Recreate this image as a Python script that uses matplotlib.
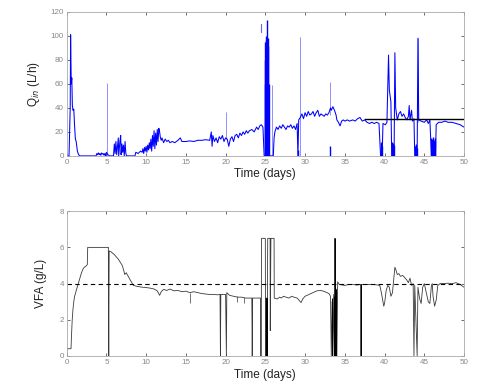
import numpy as np
import matplotlib
matplotlib.use("Agg")
import matplotlib.pyplot as plt

plt.rcParams["font.family"] = ["Liberation Sans", "DejaVu Sans"]

# ---- top panel: inflow Q_in (L/h) ----
q_time = [0, 0.3, 0.45, 0.5, 0.58, 0.65, 0.72, 0.8, 0.9, 1.0, 1.1, 1.2, 1.35, 1.5, 1.7,
          3.7, 3.8, 3.9, 4.0, 4.1, 4.2, 4.3, 4.4, 4.5, 4.6, 4.7, 4.8, 4.9, 5.0, 5.2, 5.4,
          5.9, 6.0, 6.1, 6.2, 6.3, 6.4, 6.5, 6.55, 6.7, 6.8, 6.85, 6.95, 7.05, 7.15, 7.25,
          7.35, 7.45, 7.55, 8.6, 8.7, 9.0, 9.3, 9.5, 9.6, 9.7, 9.8, 9.9, 10.0, 10.1, 10.2,
          10.3, 10.4, 10.5, 10.6, 10.7, 10.8, 10.9, 11.0, 11.1, 11.2, 11.3, 11.4, 11.5, 11.6,
          11.7, 11.8, 11.9, 12.0, 12.2, 12.4, 12.6, 12.8, 13.0, 13.3, 13.6, 14.0, 14.3, 14.5,
          15.0, 15.5, 16.0, 16.5, 17.0, 17.5, 18.0, 18.2, 18.3, 18.4, 18.6, 18.8, 19.0, 19.2,
          19.4, 19.6, 19.8, 20.0, 20.2, 20.4, 20.6, 20.8, 21.0, 21.2, 21.4, 21.6, 21.8, 22.0,
          22.2, 22.4, 22.6, 22.8, 23.0, 23.3, 23.6, 23.9, 24.1, 24.3, 24.5, 24.7, 24.85,
          25.5, 26.0, 26.1, 26.2, 26.4, 26.6, 26.8, 27.0, 27.2, 27.4, 27.6, 27.8, 28.0, 28.2,
          28.4, 28.6, 28.8, 29.0, 29.1, 29.2, 29.4, 29.6, 29.8, 30.0, 30.2, 30.4, 30.6, 30.8,
          31.0, 31.2, 31.4, 31.6, 31.8, 32.0, 32.2, 32.4, 32.6, 32.8, 33.0, 33.2, 33.3, 33.5,
          33.7, 33.9, 34.0, 34.2, 34.4, 34.6, 34.8, 35.0, 35.3, 35.6, 36.0, 36.3, 36.6, 36.9,
          37.2, 37.5, 37.8, 38.1, 38.4, 38.7, 39.0, 39.3, 39.5, 39.7, 39.8, 40.1, 40.3, 40.5,
          40.6, 40.7, 40.8, 40.9, 41.2, 41.3, 41.4, 41.6, 41.8, 42.0, 42.2, 42.4, 42.6, 42.8,
          43.0, 43.1, 43.2, 43.4, 43.5, 43.7, 43.8, 44.1, 44.2, 44.3, 44.6, 45.0, 45.3, 45.5,
          45.7, 45.8, 45.9, 46.4, 46.5, 46.8, 47.2, 47.6, 48.0, 48.5, 49.0, 49.5, 50.0]
q_in = [0, 0, 40, 101, 60, 65, 42, 38, 39, 25, 14, 12, 4, 1, 0,
        0, 2, 1, 2.5, 1, 2, 0.5, 2.5, 1.5, 2, 0.5, 2, 0, 3, 1, 0,
        0, 10, 2, 12, 1, 8, 15, 0, 12, 17, 1, 10, 3, 9, 0,
        12, 2, 0, 0, 3, 2, 4, 3, 6, 2, 7, 4, 8, 3, 9,
        5, 11, 6, 14, 4, 17, 8, 21, 6, 19, 9, 22, 12, 23,
        20, 15, 13, 15, 11, 14, 12, 13, 11, 12, 11, 13, 15, 12,
        12, 12.5, 12, 13, 13, 13.5, 13, 20, 8, 17, 12, 15, 11, 16,
        14, 17, 12, 15, 14, 8, 14, 16, 12, 17, 18, 15, 19, 17,
        20, 18, 21, 19, 21, 22, 20, 24, 22, 25, 26, 24, 0,
        0, 0, 15, 20, 24, 22, 25, 23, 26, 24, 22, 25, 24, 26,
        23, 25, 22, 27, 0, 30, 32, 35, 31, 36, 33, 37, 34, 35,
        37, 33, 36, 38, 33, 35, 34, 33, 35, 34, 36, 40, 38, 41,
        38, 34, 30, 28, 25, 29, 30, 29, 30, 29, 30, 29, 31, 32,
        29, 30, 28, 27, 28, 27, 28, 27, 0, 0, 27, 26, 28, 84,
        55, 50, 45, 0, 0, 86, 40, 30, 35, 37, 33, 35, 32, 30,
        33, 42, 30, 38, 29, 31, 0, 0, 98, 30, 29, 28, 30, 27,
        30, 15, 0, 0, 26, 28, 28, 29, 28, 28, 27, 26, 24]

# thin spikes (light)
spike_time = [5.07, 20.1, 25.8, 29.35, 33.1, 44.25]
spike_low = [0, 14, 0, 0, 34, 28]
spike_high = [61, 37, 59, 99, 62, 98]

# dense block around day 25
block_time = [24.9, 24.95, 25.0, 25.05, 25.1, 25.15, 25.2, 25.25, 25.3, 25.35, 25.4]
block_high = [60, 80, 95, 97, 100, 96, 94, 113, 98, 92, 60]
dash_time = [24.4, 24.4]
dash_q = [103, 110]

# dark drops to zero
drop_time = [29.1, 33.1, 39.5, 39.6, 39.7, 40.9, 41.0, 41.1, 41.2, 43.8, 43.9, 44.0,
             44.1, 45.9, 46.0, 46.1, 46.2, 46.3, 46.4]
drop_high = [5, 8, 10, 12, 8, 10, 12, 11, 9, 8, 10, 9, 7, 15, 14, 16, 13, 15, 12]

setpoint_q_time = [37.6, 50]
setpoint_q = [31, 31]

# ---- bottom panel: VFA (g/L) ----
vfa_time = [0, 0.05, 0.55, 0.6, 0.7, 0.8, 0.9, 1.0, 1.2, 1.4, 1.6, 1.8, 2.0, 2.2, 2.4, 2.6,
            2.65, 5.25, 5.3, 5.35, 5.6, 6.0, 6.5, 7.0, 7.2, 7.3, 7.5, 8.0, 8.4, 8.8, 9.5,
            10.0, 10.5, 11.0, 11.4, 11.7, 11.9, 12.2, 12.6, 13.0, 13.5, 14.0, 14.5, 15.0,
            15.5, 16.0, 16.5, 17.0, 17.5, 18.0, 18.5, 19.0, 19.3, 19.35, 19.4, 20.0, 20.1,
            20.15, 20.5, 21.0, 21.5, 22.0, 22.5, 23.0, 23.3, 23.35, 23.4, 24.0, 24.4, 24.45,
            24.5, 24.52, 25.0, 25.02, 25.1, 25.12, 25.2, 25.22, 25.3, 25.6, 25.62, 25.7, 26.1,
            26.12, 26.5, 26.8, 27.0, 27.3, 27.6, 28.0, 28.3, 28.6, 29.0, 29.3, 29.5, 29.7,
            30.0, 30.5, 31.0, 31.5, 32.0, 32.5, 33.0, 33.2, 33.3, 33.4, 33.5, 33.6, 33.7,
            33.75, 33.8, 33.9, 34.0, 34.1, 34.3, 35.0, 35.5, 36.0, 36.5, 37.0, 37.02, 37.05,
            37.07, 38.0, 38.5, 39.0, 39.4, 39.6, 39.8, 39.9, 40.0, 40.2, 40.4, 40.6, 40.8,
            41.0, 41.1, 41.3, 41.4, 41.6, 41.8, 42.0, 42.3, 42.6, 42.8, 43.0, 43.2, 43.4,
            43.6, 43.7, 43.8, 44.1, 44.2, 44.4, 44.6, 44.8, 45.0, 45.2, 45.5, 45.7, 45.9,
            46.0, 46.1, 46.3, 46.5, 46.7, 47.0, 47.5, 48.0, 48.5, 49.0, 49.5, 50.0]
vfa = [0, 0.4, 0.4, 1.0, 2.0, 2.6, 3.0, 3.3, 3.6, 3.9, 4.2, 4.5, 4.75, 4.9, 4.95, 5.05,
       6.0, 6.0, 0, 5.8, 5.75, 5.6, 5.35, 5.0, 4.7, 4.5, 4.6, 4.2, 3.9, 3.85, 3.8,
       3.78, 3.75, 3.7, 3.6, 3.35, 3.55, 3.68, 3.62, 3.7, 3.6, 3.62, 3.55, 3.58,
       3.5, 3.55, 3.5, 3.45, 3.42, 3.4, 3.4, 3.38, 3.4, 0, 3.4, 3.4, 0,
       3.5, 3.35, 3.3, 3.25, 3.25, 3.2, 3.2, 3.2, 0, 3.2, 3.2, 3.2, 0,
       3.2, 6.5, 6.5, 0, 3.2, 0, 3.2, 0, 6.5, 6.5, 1.4, 6.5, 6.5,
       3.2, 3.15, 3.25, 3.2, 3.3, 3.25, 3.2, 3.3, 3.25, 3.2, 3.05, 2.95, 3.15,
       3.3, 3.4, 3.5, 3.6, 3.62, 3.55, 3.45, 3.3, 0, 3.0, 0, 3.4, 0,
       6.5, 0, 3.7, 0, 4.1, 3.95, 3.9, 3.95, 3.95, 3.92, 3.95, 0, 0,
       3.95, 3.95, 3.95, 3.93, 3.9, 3.5, 3.0, 2.75, 2.9, 3.6, 3.9, 3.8, 3.3,
       3.5, 4.0, 4.9, 4.8, 4.5, 4.55, 4.4, 4.45, 4.3, 4.2, 4.05, 4.3, 3.9,
       4.0, 0, 3.9, 0, 3.8, 3.2, 2.9, 3.8, 4.0, 3.6, 3.0, 2.9, 3.9,
       4.0, 3.3, 2.75, 3.1, 3.9, 4.0, 4.0, 4.02, 4.0, 4.05, 3.95, 3.8]

vfa_tick_time = [15.5, 21.4, 22.3]
vfa_tick_low = [2.9, 3.0, 2.9]
vfa_tick_high = [3.5, 3.3, 3.25]

vfa_dark_time = [25.05, 25.1, 25.15, 25.2, 25.25, 33.4, 33.6, 33.8, 33.95, 37.03]
vfa_dark_high = [3.2, 3.2, 3.2, 3.2, 3.2, 3.2, 3.3, 6.5, 3.7, 3.95]

vfa_setpoint = 4.0

BLUE = "#0000ff"
GREY = "#3a3a3a"
TICK_C = "#888888"
SPINE_C = "#aaaaaa"

fig = plt.figure(figsize=(4.9, 3.84), dpi=100)
ax1 = fig.add_axes([0.136, 0.594, 0.811, 0.375])
ax2 = fig.add_axes([0.136, 0.073, 0.811, 0.377])

# top
ax1.plot(q_time, q_in, color=BLUE, lw=0.75)
ax1.vlines(spike_time, spike_low, spike_high, color=BLUE, lw=0.5, alpha=0.6)
ax1.vlines(block_time, 0, block_high, color=BLUE, lw=1.0)
ax1.plot(dash_time, dash_q, color=BLUE, lw=0.8, alpha=0.6)
ax1.vlines(drop_time, 0, drop_high, color=BLUE, lw=1.0)
ax1.plot(setpoint_q_time, setpoint_q, color="black", lw=1.0)
ax1.set_xlim(0, 50)
ax1.set_ylim(0, 120)
ax1.set_xticks(np.arange(0, 51, 5))
ax1.set_yticks(np.arange(0, 121, 20))
ax1.set_xlabel("Time (days)", fontsize=8.5, color="#222222", labelpad=2)
ax1.set_ylabel(r"Q$_{in}$ (L/h)", fontsize=8.5, color="#222222", labelpad=6)

# bottom
ax2.plot(vfa_time, vfa, color=GREY, lw=0.6)
ax2.vlines(vfa_tick_time, vfa_tick_low, vfa_tick_high, color=GREY, lw=0.5)
ax2.vlines(vfa_dark_time, 0, vfa_dark_high, color="black", lw=0.7)
ax2.axhline(vfa_setpoint, color="black", lw=0.8, dashes=(4, 3))
ax2.set_xlim(0, 50)
ax2.set_ylim(0, 8)
ax2.set_xticks(np.arange(0, 51, 5))
ax2.set_yticks(np.arange(0, 9, 2))
ax2.set_xlabel("Time (days)", fontsize=8.5, color="#222222", labelpad=2)
ax2.set_ylabel("VFA (g/L)", fontsize=8.5, color="#222222", labelpad=9)

for ax in (ax1, ax2):
    ax.tick_params(direction="in", length=2.5, width=0.6, top=True, right=True,
                   labelsize=5.8, labelcolor=TICK_C, color="#555555", pad=2)
    for s in ax.spines.values():
        s.set_color(SPINE_C)
        s.set_linewidth(0.6)

fig.savefig("out.png", dpi=100)
